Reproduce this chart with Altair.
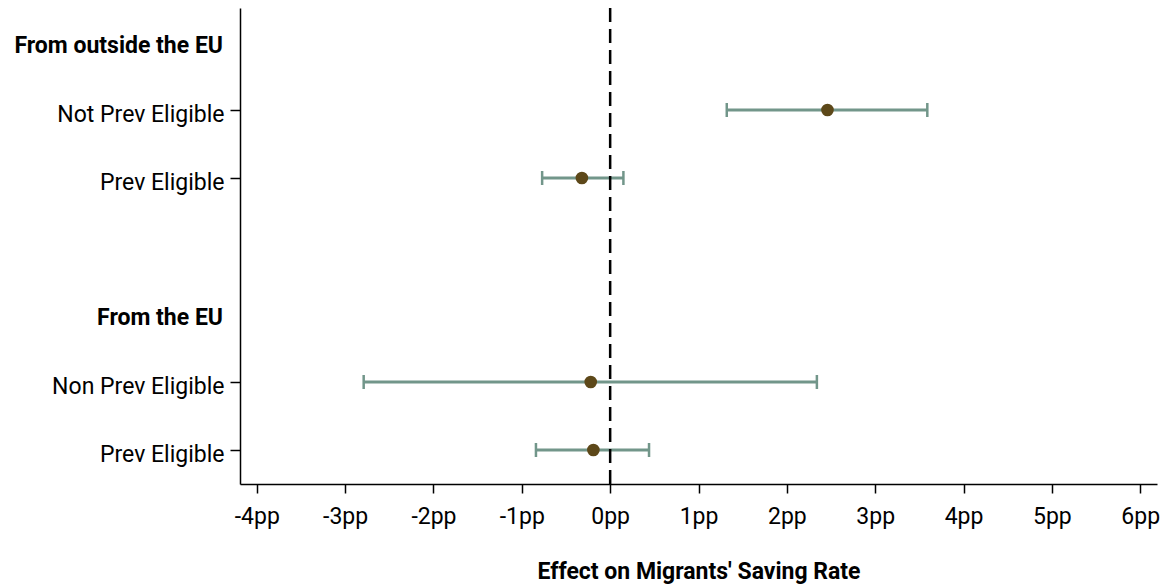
import altair as alt
import pandas as pd

# ---- data ----
row_labels = ["Not Prev Eligible", "Prev Eligible", "Non Prev Eligible", "Prev Eligible"]
row_groups = ["From outside the EU", "From outside the EU", "From the EU", "From the EU"]
row_pos = [2, 3, 6, 7]
coef = [2.46, -0.32, -0.22, -0.19]
ci_lo = [1.32, -0.77, -2.79, -0.84]
ci_hi = [3.59, 0.15, 2.34, 0.44]

header_labels = ["From outside the EU", "From the EU"]
header_pos = [1, 5]

x_ticks = [-4, -3, -2, -1, 0, 1, 2, 3, 4, 5, 6]

FONT = "Roboto"
FS = 23
CI_COLOR = "#72968a"
PT_COLOR = "#5d4819"

df = pd.DataFrame({"label": row_labels, "group": row_groups, "pos": row_pos,
                   "coef": coef, "lo": ci_lo, "hi": ci_hi})
hdr = pd.DataFrame({"label": header_labels, "pos": header_pos})
zero = pd.DataFrame({"x": [0]})

xscale = alt.Scale(domain=[-4.19, 6.19], nice=False, zero=False)
yscale = alt.Scale(domain=[0.5, 7.5], reverse=True, nice=False, zero=False)

label_map = "{" + ",".join(f"'{p}':'{l}'" for p, l in zip(row_pos, row_labels)) + "}"

x_axis = alt.Axis(values=x_ticks, labelExpr="datum.value + 'pp'", title="Effect on Migrants' Saving Rate",
                  grid=False, tickSize=9, labelPadding=12, titlePadding=32,
                  titleFontWeight="bold")
y_axis = alt.Axis(values=row_pos, labelExpr=f"{label_map}[datum.value]", title=None,
                  grid=False, tickSize=10, labelPadding=6, labelBaseline="middle", labelOffset=4)

base = alt.Chart(df)

ci = base.mark_rule(color=CI_COLOR, strokeWidth=3).encode(
    x=alt.X("lo:Q", scale=xscale, axis=x_axis),
    x2="hi:Q",
    y=alt.Y("pos:Q", scale=yscale, axis=y_axis),
)
cap_lo = base.mark_tick(color=CI_COLOR, orient="vertical", size=14, thickness=2.5, opacity=1).encode(
    x=alt.X("lo:Q", scale=xscale), y=alt.Y("pos:Q", scale=yscale))
cap_hi = base.mark_tick(color=CI_COLOR, orient="vertical", size=14, thickness=2.5, opacity=1).encode(
    x=alt.X("hi:Q", scale=xscale), y=alt.Y("pos:Q", scale=yscale))

zero_line = alt.Chart(zero).mark_rule(color="black", strokeWidth=2.5, strokeDash=[14, 7]).encode(
    x=alt.X("x:Q", scale=xscale))

points = base.mark_circle(color=PT_COLOR, size=160, opacity=1).encode(
    x=alt.X("coef:Q", scale=xscale), y=alt.Y("pos:Q", scale=yscale))

headers = alt.Chart(hdr).mark_text(align="right", baseline="middle", font=FONT, fontSize=FS,
                                   fontWeight="bold", color="black", dy=4).encode(
    x=alt.value(-17), y=alt.Y("pos:Q", scale=yscale), text="label:N")

chart = alt.layer(ci, cap_lo, cap_hi, zero_line, points, headers).properties(
    width=917, height=476,
    autosize=alt.AutoSizeParams(type="none"),
    padding={"left": 240, "top": 8, "right": 13, "bottom": 104},
    background="white",
).configure_view(stroke=None).configure_axis(
    labelFont=FONT, titleFont=FONT, labelFontSize=FS, titleFontSize=FS,
    labelColor="black", titleColor="black", domainColor="black", tickColor="black",
    domainWidth=1.5, tickWidth=1.5,
)

chart.save("out.html", embed_options={"renderer": "svg", "actions": False})
